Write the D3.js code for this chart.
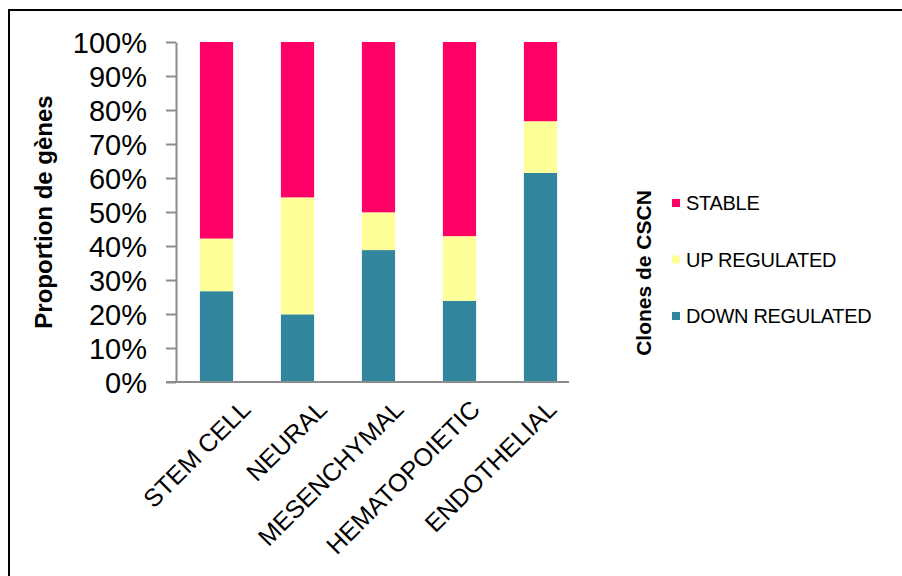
<!DOCTYPE html>
<html>
<head>
<meta charset="utf-8">
<script src="https://cdn.jsdelivr.net/npm/d3@7"></script>
<style>
  html, body { margin: 0; padding: 0; background: #fff; }
  svg { display: block; font-family: Arial, "Liberation Sans", sans-serif; }
</style>
</head>
<body>
<svg id="chart" width="902" height="576"></svg>
<script>
// Categories of clones and the share of genes in each regulation class
const categories = ["STEM CELL", "NEURAL", "MESENCHYMAL", "HEMATOPOIETIC", "ENDOTHELIAL"];
const downRegulated = [0.267, 0.199, 0.388, 0.239, 0.615];
const upRegulated   = [0.155, 0.344, 0.111, 0.190, 0.152];
const stable        = [0.578, 0.457, 0.501, 0.571, 0.233];
const seriesNames = ["DOWN REGULATED", "UP REGULATED", "STABLE"];
const seriesColors = ["#31859C", "#FFFF99", "#FF0066"];
const yTicks = [0, 0.1, 0.2, 0.3, 0.4, 0.5, 0.6, 0.7, 0.8, 0.9, 1.0];

const svg = d3.select("#chart");

// Outer frame (top and left edges)
svg.append("path")
  .attr("d", "M9,576V10H902")
  .attr("fill", "none")
  .attr("stroke", "#000")
  .attr("stroke-width", 2);

const y = d3.scaleLinear().domain([0, 1]).range([382, 42]);
const x = d3.scaleBand().domain(categories).range([176, 581])
  .paddingInner(0.59).paddingOuter(0.295);
const labelX = d3.scalePoint().domain(categories).range([252, 558]);

// Stack the three series
const rows = categories.map((c, i) => ({
  cat: c,
  "DOWN REGULATED": downRegulated[i],
  "UP REGULATED": upRegulated[i],
  "STABLE": stable[i]
}));
const stacked = d3.stack().keys(seriesNames)(rows);
const color = d3.scaleOrdinal().domain(seriesNames).range(seriesColors);

svg.append("g").selectAll("g")
  .data(stacked)
  .join("g")
  .attr("fill", d => color(d.key))
  .selectAll("rect")
  .data(d => d)
  .join("rect")
  .attr("x", d => x(d.data.cat))
  .attr("width", x.bandwidth())
  .attr("y", d => y(d[1]))
  .attr("height", d => y(d[0]) - y(d[1]));

// Y axis
const yAxis = svg.append("g")
  .attr("transform", "translate(176,0)")
  .call(d3.axisLeft(y).tickValues(yTicks).tickSize(10).tickSizeOuter(0)
    .tickFormat(d3.format(".0%")));
yAxis.select(".domain").attr("stroke", "#8c8c8c").attr("stroke-width", 2);
yAxis.selectAll(".tick line").attr("stroke", "#8c8c8c").attr("stroke-width", 2);
yAxis.selectAll(".tick text")
  .attr("x", -29)
  .attr("dy", "0.36em")
  .attr("font-size", 29)
  .attr("font-family", "Arial, 'Liberation Sans', sans-serif")
  .attr("fill", "#000");

// X axis baseline
svg.append("line")
  .attr("x1", 166).attr("x2", 569)
  .attr("y1", y(0)).attr("y2", y(0))
  .attr("stroke", "#8c8c8c").attr("stroke-width", 2);

// Rotated category labels
svg.append("g").selectAll("text")
  .data(categories)
  .join("text")
  .attr("transform", d => `translate(${labelX(d)},411) rotate(-45)`)
  .attr("text-anchor", "end")
  .attr("font-size", 25)
  .attr("fill", "#000")
  .text(d => d);

// Y axis title
svg.append("text")
  .attr("transform", "translate(52,212) rotate(-90)")
  .attr("text-anchor", "middle")
  .attr("font-size", 24)
  .attr("font-weight", "bold")
  .text("Proportion de gènes");

// Legend title
svg.append("text")
  .attr("transform", "translate(651,273) rotate(-90)")
  .attr("text-anchor", "middle")
  .attr("font-size", 21)
  .attr("font-weight", "bold")
  .text("Clones de CSCN");

// Legend entries, stable first
const legendOrder = ["STABLE", "UP REGULATED", "DOWN REGULATED"];
const legendY = d3.scalePoint().domain(legendOrder).range([203, 316]);
const legend = svg.append("g").selectAll("g")
  .data(legendOrder)
  .join("g")
  .attr("transform", d => `translate(672,${legendY(d)})`);
legend.append("rect")
  .attr("x", 0).attr("y", -4)
  .attr("width", 8).attr("height", 8)
  .attr("fill", d => color(d));
legend.append("text")
  .attr("x", 14)
  .attr("dy", "0.36em")
  .attr("font-size", 20)
  .attr("letter-spacing", -0.3)
  .attr("fill", "#000")
  .text(d => d);
</script>
</body>
</html>
